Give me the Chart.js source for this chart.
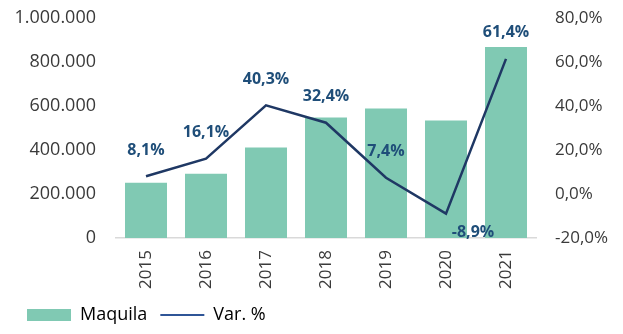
<!DOCTYPE html>
<html>
<head>
<meta charset="utf-8">
<script src="https://cdn.jsdelivr.net/npm/chart.js@4.4.1/dist/chart.umd.min.js"></script>
<style>
  html, body { margin: 0; padding: 0; background: #fff; }
  #wrap { width: 623px; height: 334px; }
</style>
</head>
<body>
<div id="wrap"><canvas id="maquilaChart"></canvas></div>
<script>
const years = ['2015', '2016', '2017', '2018', '2019', '2020', '2021'];
const maquila = [251000, 292000, 411000, 548000, 589000, 534000, 868000];
const varPct = [8.1, 16.1, 40.3, 32.4, 7.4, -8.9, 61.4];

function formatThousands(value) {
    return String(value).replace(/\B(?=(\d{3})+(?!\d))/g, '.');
}

function formatPct(value) {
    return value.toFixed(1).replace('.', ',') + '%';
}

// draws the bold % labels next to the line points
const lineLabels = {
    id: 'lineLabels',
    afterDatasetsDraw(chart) {
        const ctx = chart.ctx;
        const meta = chart.getDatasetMeta(1);
        ctx.save();
        ctx.font = 'bold 16px "Open Sans"';
        ctx.fillStyle = '#1f4e79';
        ctx.textAlign = 'center';
        ctx.textBaseline = 'middle';
        meta.data.forEach((pt, i) => {
            const v = varPct[i];
            if (v < 0) {
                ctx.fillText(formatPct(v), pt.x + 27, pt.y + 19);
            } else {
                ctx.fillText(formatPct(v), pt.x, pt.y - 26);
            }
        });
        ctx.restore();
    }
};

// nudge the legend a bit to the right
const legendShift = {
    id: 'legendShift',
    afterLayout(chart) {
        chart.legend.left += 14;
        chart.legend.right += 14;
    }
};

Chart.defaults.font.family = '"Open Sans", sans-serif';
Chart.defaults.font.size = 17;
Chart.defaults.color = '#3a3a3a';

const ctx = document.getElementById('maquilaChart').getContext('2d');
const maquilaChart = new Chart(ctx, {
    type: 'bar',
    data: {
        labels: years,
        datasets: [
            {
                label: 'Maquila',
                data: maquila,
                backgroundColor: '#80c9b3',
                categoryPercentage: 0.7,
                barPercentage: 1.0,
                yAxisID: 'y',
                order: 2
            },
            {
                type: 'line',
                label: 'Var. %',
                data: varPct,
                borderColor: '#1f3864',
                backgroundColor: '#1f3864',
                borderWidth: 2.5,
                pointRadius: 0,
                tension: 0,
                yAxisID: 'y1',
                order: 1
            }
        ]
    },
    plugins: [lineLabels, legendShift],
    options: {
        responsive: true,
        maintainAspectRatio: false,
        animation: false,
        layout: {
            padding: { top: 0, left: 0, right: 0, bottom: 0 }
        },
        plugins: {
            tooltip: { enabled: false },
            legend: {
                position: 'bottom',
                align: 'start',
                labels: {
                    usePointStyle: true,
                    pointStyleWidth: 44,
                    boxHeight: 12,
                    padding: 13,
                    color: '#3a3a3a',
                    font: { size: 18 },
                    generateLabels: function(chart) {
                        return chart.data.datasets.map((ds, i) => ({
                            text: ds.label,
                            fillStyle: ds.backgroundColor,
                            strokeStyle: i === 0 ? ds.backgroundColor : '#2f5597',
                            lineWidth: i === 0 ? 0 : 2,
                            pointStyle: i === 0 ? 'rect' : 'line',
                            datasetIndex: i
                        }));
                    }
                }
            }
        },
        scales: {
            x: {
                grid: { display: false },
                border: { color: '#d9d9d9', width: 1.5 },
                ticks: { minRotation: 90, maxRotation: 90, padding: 4 },
                afterFit: function(scale) { scale.height = 55; }
            },
            y: {
                position: 'left',
                min: 0,
                max: 1000000,
                grid: { display: false },
                border: { display: false },
                ticks: {
                    stepSize: 200000,
                    padding: 12,
                    font: { size: 18 },
                    callback: function(value) {
                        return formatThousands(value);
                    }
                },
                afterFit: function(scale) {
                    scale.width = 116;
                    scale.paddingTop = 18;
                }
            },
            y1: {
                position: 'right',
                min: -20,
                max: 80,
                grid: { display: false },
                border: { display: false },
                ticks: {
                    stepSize: 20,
                    padding: 11,
                    callback: function(value) {
                        return formatPct(value);
                    }
                },
                afterFit: function(scale) {
                    scale.width = 87;
                    scale.paddingTop = 18;
                }
            }
        }
    }
});
</script>
</body>
</html>
